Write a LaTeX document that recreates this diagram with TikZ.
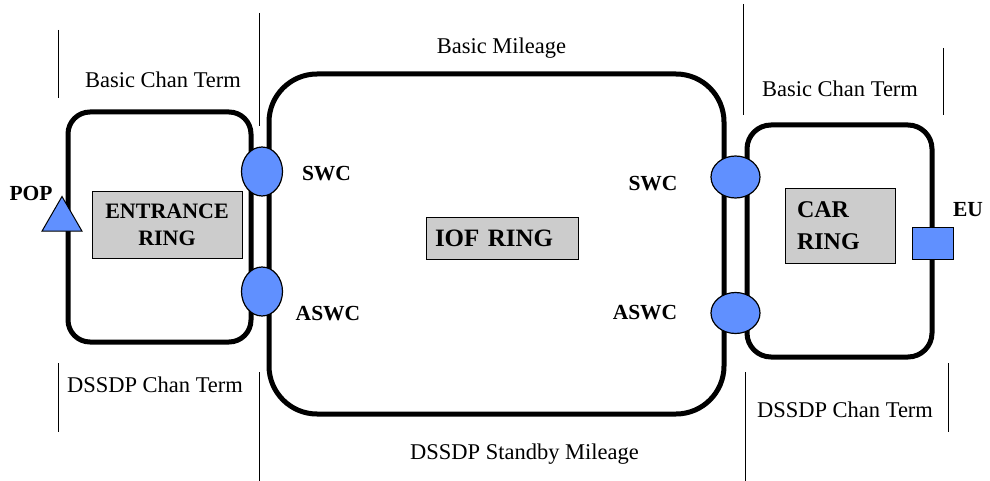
\documentclass[tikz,border=0pt]{standalone}
\usepackage{fontspec}
\setmainfont{Liberation Serif}
\usetikzlibrary{shapes.geometric}
\definecolor{nodeblue}{RGB}{96,144,255}
\definecolor{boxgray}{RGB}{204,204,204}
\begin{document}
\begin{tikzpicture}[x=1pt,y=-1pt,
  ring/.style={draw, line width=5pt, rectangle, inner sep=0pt},
  swcnode/.style={ellipse, draw, line width=1.2pt, fill=nodeblue, inner sep=0pt},
  graybox/.style={draw, line width=1pt, fill=boxgray},
  lbl/.style={font=\fontsize{22.5}{27}\selectfont, inner sep=0pt, anchor=base},
  blbl/.style={font=\fontsize{21.5}{26}\selectfont\bfseries, inner sep=0pt},
  divider/.style={line width=0.8pt}
]
\useasboundingbox (0,0) rectangle (990,481);

% dividers
\draw[divider] (58,30) -- (58,98);
\draw[divider] (259,13) -- (259,126);
\draw[divider] (743,4) -- (743,115);
\draw[divider] (943,48) -- (943,115);
\draw[divider] (58,363) -- (58,432);
\draw[divider] (259,372) -- (259,481);
\draw[divider] (745,372) -- (745,481);
\draw[divider] (948,363) -- (948,432);

% rings
\node[ring, rounded corners=22pt, minimum width=183pt, minimum height=230pt] (entr) at (159.5,227) {};
\node[ring, rounded corners=48pt, minimum width=455pt, minimum height=340pt] (iof) at (496.5,244) {};
\node[ring, rounded corners=24pt, minimum width=185pt, minimum height=232pt] (car) at (839.5,241) {};

% switches
\node[swcnode, minimum width=41pt, minimum height=49pt] (swcL) at (262,171.5) {};
\node[swcnode, minimum width=41pt, minimum height=49pt] (aswcL) at (262,291.5) {};
\node[swcnode, minimum width=49pt, minimum height=42pt] (swcR) at (735.5,177) {};
\node[swcnode, minimum width=49pt, minimum height=41pt] (aswcR) at (735.5,313) {};

% POP and EU
\node[regular polygon, regular polygon sides=3, draw, line width=1pt, fill=nodeblue, minimum size=46pt, inner sep=0pt] (pop) at (62,219.5) {};
\node[draw, line width=1pt, fill=nodeblue, minimum width=41pt, minimum height=32pt, inner sep=0pt] (eu) at (932.5,243) {};

% gray boxes
\node[graybox, font=\fontsize{22}{27}\selectfont\bfseries, minimum width=150pt, minimum height=66pt, align=center, inner sep=0pt] (entrbox) at (167,225) {ENTRANCE\\RING};
\node[graybox, font=\fontsize{25}{30}\selectfont\bfseries, minimum height=42pt, text width=134pt, inner xsep=9pt, inner ysep=0pt, align=left] (iofbox) at (502,238) {IOF RING};
\node[graybox, font=\fontsize{24}{32}\selectfont\bfseries, minimum height=74pt, text width=86pt, inner xsep=12pt, inner ysep=0pt, align=left] (carbox) at (840,226) {CAR\\RING};

% bold labels
\node[blbl] (popl) at (31,193.5) {POP};
\node[blbl] (eul) at (968,210) {EU};
\node[blbl] (swcLl) at (326.5,173.5) {SWC};
\node[blbl] (aswcLl) at (328,314) {ASWC};
\node[blbl] (swcRl) at (653,183.5) {SWC};
\node[blbl] (aswcRl) at (645,313) {ASWC};

% plain labels
\node[lbl] (bm) at (501.5,54) {Basic Mileage};
\node[lbl] (bctL) at (163,88) {Basic Chan Term};
\node[lbl] (bctR) at (840,97) {Basic Chan Term};
\node[lbl] (dctL) at (155,392) {DSSDP Chan Term};
\node[lbl] (dctR) at (845,417) {DSSDP Chan Term};
\node[lbl] (dsm) at (524.5,459) {DSSDP Standby Mileage};
\end{tikzpicture}
\end{document}
